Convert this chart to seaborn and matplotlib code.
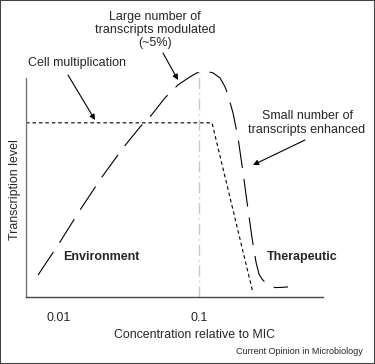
import matplotlib
matplotlib.use("Agg")
import matplotlib.pyplot as plt
import seaborn as sns
import pandas as pd
from matplotlib.patches import Rectangle

# ---- data ----
modulated_x = [0.00708, 0.01016, 0.01413, 0.02028, 0.02864, 0.03793, 0.04467,
               0.05715, 0.07079, 0.08630, 0.0968, 0.1086, 0.1259, 0.1413,
               0.1535, 0.1611, 0.1750, 0.1901, 0.2061, 0.2203, 0.2393,
               0.2553, 0.2683, 0.2818, 0.2958, 0.3214, 0.3491, 0.3917, 0.4325]
modulated_y = [10.0, 25.1, 39.7, 54.8, 68.0, 77.6, 82.2,
               90.9, 96.8, 100.5, 102.3, 103.2, 102.3, 100.0,
               95.9, 92.2, 84.0, 72.6, 57.1, 43.4, 26.9,
               16.0, 10.5, 8.2, 6.8, 5.0, 4.3, 4.4, 4.6]

growth_x = [0.00581, 0.1239, 0.2432]
growth_y = [79.5, 79.5, 1.8]

mic_line_x = 0.1
mic_line_top = 103.0

tick_values = [0.01, 0.1]
tick_labels = ["0.01", "0.1"]

# ---- figure ----
sns.set_style("white")
plt.rcParams["font.family"] = ["Liberation Sans", "DejaVu Sans"]

W, H = 375, 364
fig = plt.figure(figsize=(W / 100, H / 100), dpi=100)
ax = fig.add_axes([26 / W, (H - 297) / H, 297 / W, 241 / H])

df_mod = pd.DataFrame({"x": modulated_x, "y": modulated_y})
df_grow = pd.DataFrame({"x": growth_x, "y": growth_y})

sns.lineplot(data=df_mod, x="x", y="y", sort=False, estimator=None, ax=ax,
             color="black", lw=0.8, linestyle=(0, (25, 10)))
sns.lineplot(data=df_grow, x="x", y="y", sort=False, estimator=None, ax=ax,
             color="black", lw=0.8, linestyle=(0, (3.2, 2.6)))
ax.vlines(mic_line_x, 0, mic_line_top, color="#c8c8c8", lw=1.0,
          linestyle=(0, (8, 3, 1, 3)))

ax.set_xscale("log")
ax.set_xlim(0.00581, 0.769)
ax.set_ylim(0, 110)
ax.set_xticks(tick_values)
ax.set_xticklabels(tick_labels)
ax.minorticks_off()
ax.set_yticks([])
ax.tick_params(axis="x", length=0, pad=11, labelsize=9)

for s in ["top", "right"]:
    ax.spines[s].set_visible(False)
ax.spines["left"].set_bounds(0, 100)
ax.spines["left"].set_color("#777777")
ax.spines["bottom"].set_color("#444444")
ax.spines["left"].set_linewidth(1.0)
ax.spines["bottom"].set_linewidth(1.0)

ax.set_xlabel("Concentration relative to MIC", fontsize=8.9)
ax.xaxis.set_label_coords((195 - 26) / 297, (297 - 335) / 241)
ax.xaxis.label.set_va("center")
ax.set_ylabel("Transcription level", fontsize=8.9)
ax.yaxis.set_label_coords((15 - 26) / 297, (297 - 190) / 241)
ax.yaxis.label.set_va("center")


def fp(x, y):
    return (x / W, 1 - y / H)


fig.text(*fp(155, 30), "Large number of\ntranscripts modulated\n(~5%)",
         ha="center", va="center", fontsize=9, linespacing=1.15)
fig.text(*fp(28, 63), "Cell multiplication", ha="left", va="center", fontsize=9)
fig.text(*fp(307, 123), "Small number of\ntranscripts enhanced",
         ha="center", va="center", fontsize=9, linespacing=1.15)
fig.text(*fp(63, 257), "Environment", ha="left", va="center", fontsize=9,
         fontweight="bold")
fig.text(*fp(267, 257), "Therapeutic", ha="left", va="center", fontsize=9,
         fontweight="bold")
fig.text(*fp(363, 352), "Current Opinion in Microbiology", ha="right",
         va="center", fontsize=6.5)

arrows = [((163, 53), (178, 80)), ((68, 75), (95, 120)), ((305, 140), (253, 165))]
for tail, head in arrows:
    fig.add_artist(matplotlib.patches.FancyArrowPatch(
        fp(*tail), fp(*head), transform=fig.transFigure,
        arrowstyle="-|>", mutation_scale=8, lw=0.8, color="black",
        shrinkA=0, shrinkB=0))

fig.add_artist(Rectangle((0, 0), 1, 1, transform=fig.transFigure, fill=False,
                         edgecolor="#444444", lw=1.5))

fig.savefig("out.png", dpi=100)
